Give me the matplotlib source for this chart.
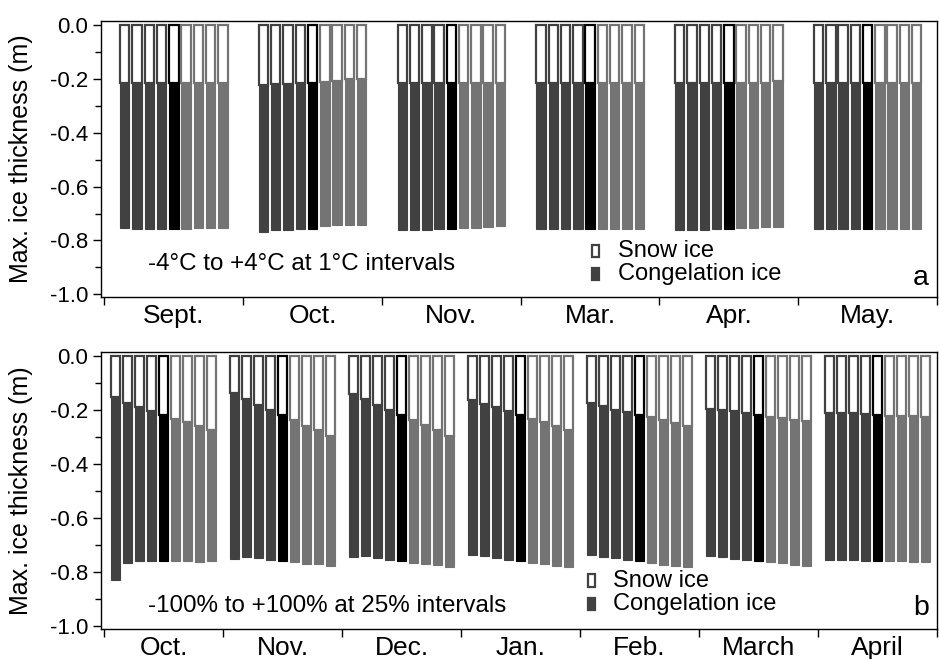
import numpy as np
import matplotlib
matplotlib.use('Agg')
import matplotlib.pyplot as plt
from matplotlib.patches import Rectangle
from matplotlib.ticker import MultipleLocator

plt.rcParams['font.family'] = ['Liberation Sans', 'DejaVu Sans']

# panneau a : perturbation de température (-4 à +4 °C), 9 barres par mois
months_a = ['Sept.', 'Oct.', 'Nov.', 'Mar.', 'Apr.', 'May.']
snow_base_a = [
    [-0.215, -0.215, -0.215, -0.215, -0.215, -0.215, -0.215, -0.215, -0.215],
    [-0.222, -0.219, -0.219, -0.214, -0.214, -0.210, -0.207, -0.201, -0.199],
    [-0.214, -0.214, -0.214, -0.214, -0.214, -0.214, -0.214, -0.214, -0.214],
    [-0.214, -0.214, -0.214, -0.214, -0.214, -0.214, -0.214, -0.214, -0.214],
    [-0.214, -0.214, -0.214, -0.214, -0.214, -0.214, -0.214, -0.214, -0.208],
    [-0.214, -0.214, -0.214, -0.214, -0.214, -0.214, -0.214, -0.214, -0.214],
]
ice_base_a = [
    [-0.753, -0.758, -0.758, -0.757, -0.757, -0.756, -0.754, -0.754, -0.754],
    [-0.767, -0.762, -0.762, -0.757, -0.757, -0.747, -0.744, -0.744, -0.742],
    [-0.762, -0.760, -0.760, -0.757, -0.756, -0.754, -0.752, -0.749, -0.747],
    [-0.758, -0.758, -0.758, -0.758, -0.757, -0.757, -0.757, -0.757, -0.757],
    [-0.762, -0.760, -0.760, -0.757, -0.756, -0.755, -0.754, -0.751, -0.749],
    [-0.756, -0.756, -0.756, -0.756, -0.756, -0.756, -0.756, -0.756, -0.756],
]

# panneau b : perturbation des précipitations (-100% à +100%)
months_b = ['Oct.', 'Nov.', 'Dec.', 'Jan.', 'Feb.', 'March', 'April']
snow_base_b = [
    [-0.152, -0.174, -0.190, -0.205, -0.219, -0.233, -0.244, -0.258, -0.273],
    [-0.137, -0.160, -0.180, -0.198, -0.219, -0.238, -0.258, -0.275, -0.295],
    [-0.140, -0.160, -0.180, -0.198, -0.219, -0.238, -0.254, -0.274, -0.294],
    [-0.164, -0.177, -0.190, -0.205, -0.219, -0.233, -0.244, -0.260, -0.273],
    [-0.174, -0.185, -0.198, -0.207, -0.219, -0.227, -0.238, -0.248, -0.259],
    [-0.195, -0.200, -0.205, -0.211, -0.219, -0.225, -0.228, -0.235, -0.241],
    [-0.210, -0.210, -0.212, -0.214, -0.219, -0.220, -0.221, -0.222, -0.225],
]
ice_base_b = [
    [-0.830, -0.765, -0.757, -0.757, -0.758, -0.758, -0.760, -0.763, -0.759],
    [-0.751, -0.743, -0.748, -0.754, -0.758, -0.762, -0.768, -0.770, -0.777],
    [-0.742, -0.739, -0.746, -0.753, -0.758, -0.765, -0.771, -0.774, -0.780],
    [-0.738, -0.741, -0.746, -0.754, -0.758, -0.765, -0.770, -0.777, -0.781],
    [-0.738, -0.743, -0.748, -0.754, -0.758, -0.764, -0.772, -0.777, -0.779],
    [-0.741, -0.744, -0.751, -0.756, -0.758, -0.762, -0.767, -0.772, -0.778],
    [-0.753, -0.754, -0.755, -0.757, -0.758, -0.759, -0.760, -0.762, -0.763],
]

y_ticks = [-1.0, -0.8, -0.6, -0.4, -0.2, 0.0]
y_tick_labels = ['-1.0', '-0.8', '-0.6', '-0.4', '-0.2', '0.0']

couleurs = ['#414141'] * 4 + ['#000000'] + ['#747474'] * 4


def tracer_panneau(ax, mois, snow_base, ice_base, pas, largeur, texte, lettre,
                   y_texte, y_lettre, x_leg, y_leg):
    for i in range(len(mois)):
        for j in range(9):
            x = i + 0.5 + (j - 4) * pas
            c = couleurs[j]
            # glace de neige (blanche, contour)
            ax.bar(x, snow_base[i][j], width=largeur, bottom=0, color='white',
                   edgecolor=c, linewidth=1.6)
            # glace de congélation
            ax.bar(x, ice_base[i][j] - snow_base[i][j], width=largeur,
                   bottom=snow_base[i][j], color=c, edgecolor=c, linewidth=0.8)

    ax.set_xlim(-0.025, len(mois))
    ax.set_yticks(y_ticks)
    ax.set_yticklabels(y_tick_labels)
    ax.yaxis.set_minor_locator(MultipleLocator(0.1))
    ax.set_ylim(-1.01, 0.015)
    ax.tick_params(axis='y', which='major', length=6, width=1, labelsize=16,
                   direction='out', pad=3)
    ax.tick_params(axis='y', which='minor', length=4, width=1, direction='out')

    ax.set_xticks(np.arange(len(mois)) + 0.5)
    ax.set_xticklabels(mois, fontsize=19)
    ax.set_xticks(np.arange(len(mois) + 1), minor=True)
    ax.tick_params(axis='x', which='major', length=0, pad=5)
    ax.tick_params(axis='x', which='minor', length=6, width=1, direction='out')

    ax.set_ylabel('Max. ice thickness (m)', fontsize=18)
    ax.yaxis.set_label_coords(-0.081, 0.5)
    for s in ax.spines.values():
        s.set_linewidth(1.0)

    ax.text(0.056, y_texte, texte, transform=ax.transAxes, fontsize=17.4,
            va='baseline', ha='left')
    ax.text(0.99, y_lettre, lettre, transform=ax.transAxes, fontsize=20.5,
            va='baseline', ha='right')

    # légende : petits rectangles + textes
    noms = ['Snow ice', 'Congelation ice']
    faces = ['white', '#414141']
    for k in range(2):
        ax.add_patch(Rectangle((x_leg, y_leg[k]), 0.0085, 0.045, transform=ax.transAxes,
                               facecolor=faces[k], edgecolor='#414141', linewidth=1.6,
                               clip_on=False))
        ax.text(x_leg + 0.031, y_leg[k], noms[k], transform=ax.transAxes, fontsize=17,
                va='baseline', ha='left')


fig = plt.figure(figsize=(9.39, 6.59), dpi=100)
ax1 = fig.add_axes([101 / 939, 1 - 297 / 659, 836 / 939, 276 / 659])
ax2 = fig.add_axes([101 / 939, 1 - 629 / 659, 836 / 939, 277 / 659])

tracer_panneau(ax1, months_a, snow_base_a, ice_base_a, 0.0885, 0.068,
               '-4°C to +4°C at 1°C intervals', 'a', 0.098, 0.0435,
               0.587, [0.145, 0.0616])
tracer_panneau(ax2, months_b, snow_base_b, ice_base_b, 0.101, 0.08,
               '-100% to +100% at 25% intervals', 'b', 0.0614, 0.0505,
               0.582, [0.152, 0.0686])

fig.savefig('out.png', dpi=100)
